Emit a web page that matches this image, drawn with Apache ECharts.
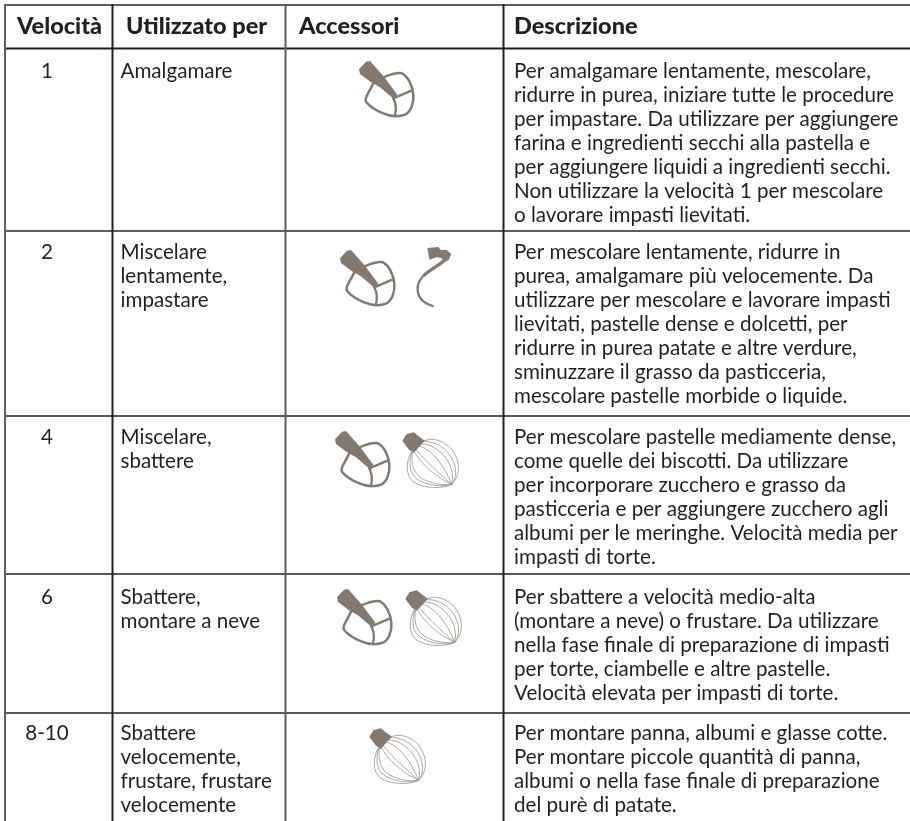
<!DOCTYPE html>
<html><head><meta charset="utf-8">
<style>html,body{margin:0;padding:0;background:#fff}#c{width:910px;height:821px}</style>
<script src="https://cdn.jsdelivr.net/npm/echarts@6/dist/echarts.min.js"></script>
</head><body><div id="c"></div>
<script>
var headers = ['Velocità', 'Utilizzato per', 'Accessori', 'Descrizione'];
var speeds = ['1', '2', '4', '6', '8-10'];
var uses = [
  ['Amalgamare'],
  ['Miscelare', 'lentamente,', 'impastare'],
  ['Miscelare,', 'sbattere'],
  ['Sbattere,', 'montare a neve'],
  ['Sbattere', 'velocemente,', 'frustare, frustare', 'velocemente']
];
var descriptions = [
  ['Per amalgamare lentamente, mescolare,', 'ridurre in purea, iniziare tutte le procedure', 'per impastare. Da utilizzare per aggiungere', 'farina e ingredienti secchi alla pastella e', 'per aggiungere liquidi a ingredienti secchi.', 'Non utilizzare la velocità 1 per mescolare', 'o lavorare impasti lievitati.'],
  ['Per mescolare lentamente, ridurre in', 'purea, amalgamare più velocemente. Da', 'utilizzare per mescolare e lavorare impasti', 'lievitati, pastelle dense e dolcetti, per', 'ridurre in purea patate e altre verdure,', 'sminuzzare il grasso da pasticceria,', 'mescolare pastelle morbide o liquide.'],
  ['Per mescolare pastelle mediamente dense,', 'come quelle dei biscotti. Da utilizzare', 'per incorporare zucchero e grasso da', 'pasticceria e per aggiungere zucchero agli', 'albumi per le meringhe. Velocità media per', 'impasti di torte.'],
  ['Per sbattere a velocità medio-alta', '(montare a neve) o frustare. Da utilizzare', 'nella fase finale di preparazione di impasti', 'per torte, ciambelle e altre pastelle.', 'Velocità elevata per impasti di torte.'],
  ['Per montare panna, albumi e glasse cotte.', 'Per montare piccole quantità di panna,', 'albumi o nella fase finale di preparazione', 'del purè di patate.']
];
var accessories = [['beater'], ['beater', 'hook'], ['beater', 'whisk'], ['beater', 'whisk'], ['whisk']];

// layout (separate from the content above)
var W = 910, H = 821;
var colLines = [5, 112.5, 285.5, 503.5];
var rowLines = [5, 48.5, 231, 416, 574, 713];
var baselines = [77, 258, 443, 603, 739];
var lineStep = 24;
var speedCenter = 47, useX = 120.5, descX = 514;
var iconAt = [
  [[340, 50]],
  [[321, 239], [290, 220]],
  [[316, 420], [393, 429]],
  [[318, 578], [396, 587]],
  [[360, 725]]
];
var ink = '#231f20', iconInk = '#84796f', wire = '#9a9289';
var font = 'Lato';
var bodySize = 20.6, headSize = 23.5;

var iconParts = {
  beater: [
    {d:'M130 82 C150 74 170 66 186 70 C202 78 218 105 220 135 C222 160 212 185 197 193 C176 201 150 199 130 190 C110 182 88 168 78 155 C74 148 78 140 84 130 L100 100', w:7.5},
    {d:'M160 145 L214 122', w:7},
    {d:'M160 145 C168 160 170 175 165 195', w:7},
    {d:'M57 58 L78 35 L90 33 L130 78 L172 134 L161 147 L120 112 L92 96 L60 72 Z', fill:iconInk}
  ],
  hook: [
    {d:'M412 84 L445 81 L452 90 L470 90 L484 102 L476 120 L462 127 L455 114 L440 112 L418 119 L415 100 Z', fill:iconInk},
    {d:'M470 112 C458 132 425 145 403 165', w:10},
    {d:'M403 165 C375 190 370 240 428 258', w:7}
  ],
  whisk: [
    {d:'M88 38 C130 15 190 50 196 110 C198 135 188 155 176 166', w:2.4, thin:1},
    {d:'M82 40 C125 28 178 65 187 118 C190 140 184 155 176 166', w:2.4, thin:1},
    {d:'M78 45 C120 40 165 80 176 124 C180 142 178 155 176 166', w:2.4, thin:1},
    {d:'M72 50 C110 55 150 100 176 166', w:2.4, thin:1},
    {d:'M66 56 C85 85 130 125 176 166', w:2.4, thin:1},
    {d:'M62 62 C75 95 120 140 176 166', w:2.4, thin:1},
    {d:'M54 70 C38 100 38 140 60 158 C90 180 150 180 176 166', w:2.4, thin:1},
    {d:'M56 70 C46 105 50 135 72 150 C100 170 150 176 176 166', w:2.4, thin:1},
    {d:'M58 70 C54 105 60 130 86 148 C115 165 150 170 176 166', w:2.4, thin:1},
    {d:'M28 36 L40 16 L62 10 L95 35 L62 72 L48 62 Z', fill:iconInk}
  ]
};

function textEl(api, x, base, str, size, weight, align) {
  var p = api.coord([x, base]);
  return { type:'text', style:{ text:str, x:p[0], y:p[1], fill:ink, font:(weight||'normal')+' '+size+'px '+font, align:align||'left', verticalAlign:'bottom' } , silent:true};
}
function iconEl(api, name, pos) {
  var p = api.coord(pos);
  return { type:'group', x:p[0], y:p[1], scaleX:1/3, scaleY:1/3, children: iconParts[name].map(function (part) {
    return { type:'path', shape:{ pathData:part.d, layout:'none' }, style: part.fill ? { fill:part.fill, stroke:null } : { fill:'none', stroke: part.thin ? wire : iconInk, lineWidth:part.w, lineCap:'round', lineJoin:'round' } };
  })};
}
var textDrop = 5;

var ruleData = [];
rowLines.forEach(function (y, i) { ruleData.push([4, y, W, y, i]); });
colLines.forEach(function (x, i) { ruleData.push([x, 4, x, H, 10 + i]); });

var rowIdx = speeds.map(function (s, i) { return [i]; });

var chart = echarts.init(document.getElementById('c'), null, { renderer:'canvas' });
chart.setOption({
  animation:false,
  backgroundColor:'#fff',
  grid:{ left:0, right:0, top:0, bottom:0 },
  xAxis:{ type:'value', min:0, max:W, show:false },
  yAxis:{ type:'value', min:0, max:H, inverse:true, show:false },
  series:[
    { type:'custom', coordinateSystem:'cartesian2d', clip:false, silent:true, encode:{x:0,y:1},
      data:ruleData,
      renderItem:function (params, api) {
        var a = api.coord([api.value(0), api.value(1)]), b = api.coord([api.value(2), api.value(3)]);
        var k = api.value(4);
        var grey = (k === 0 || k === 2 || k === 10 || k === 12);
        return { type:'line', shape:{ x1:a[0], y1:a[1], x2:b[0], y2:b[1] },
          style:{ stroke: grey ? '#5f5d5e' : ink, lineWidth: (k === 3 || k === 4 || k === 5) ? 1.5 : 2 } };
      } },
    { type:'custom', coordinateSystem:'cartesian2d', clip:false, silent:true, encode:{x:0},
      data:[[0]],
      renderItem:function (params, api) {
        var hx = [17, 126, 299, 514], kids = [];
        headers.forEach(function (h, i) {
          kids.push(textEl(api, hx[i], 33 + textDrop, h, headSize, '900', 'left'));
        });
        return { type:'group', children:kids };
      } },
    { type:'custom', coordinateSystem:'cartesian2d', clip:false, silent:true, encode:{x:0},
      data:rowIdx,
      renderItem:function (params, api) {
        var r = api.value(0), kids = [], b = baselines[r] + textDrop;
        kids.push(textEl(api, speedCenter, b, speeds[r], bodySize, 'normal', 'center'));
        uses[r].forEach(function (t, i) { kids.push(textEl(api, useX, b + i * lineStep, t, bodySize)); });
        descriptions[r].forEach(function (t, i) { kids.push(textEl(api, descX, b + i * lineStep, t, bodySize)); });
        accessories[r].forEach(function (name, i) { kids.push(iconEl(api, name, iconAt[r][i])); });
        return { type:'group', children:kids };
      } }
  ]
});
</script></body></html>
